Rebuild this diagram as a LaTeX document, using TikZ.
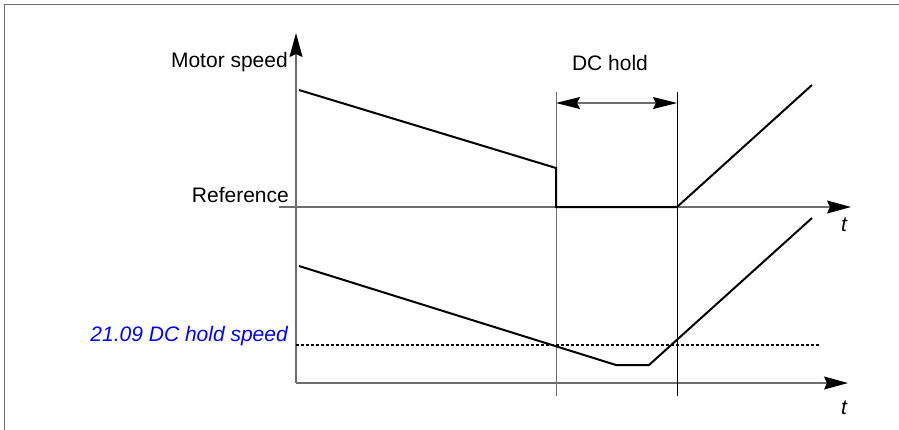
\documentclass[tikz,border=0pt]{standalone}
\usepackage{fontspec}
\setmainfont{Liberation Sans}
\usepackage{tikz}
\usetikzlibrary{arrows.meta, positioning, calc}
\definecolor{axisgray}{RGB}{110, 110, 110}
\definecolor{parblue}{RGB}{0, 0, 255}

\begin{document}
\begin{tikzpicture}[
  x=1pt, y=-1pt,
  font=\fontsize{21}{25}\selectfont,
  axisline/.style={draw=axisgray, line width=1.3pt},
  axisarrow/.style={axisline, -{Stealth[length=24pt, width=13pt, inset=3pt, color=black]}},
  speedline/.style={draw=black, line width=2pt, line join=miter},
  markline/.style={line width=1pt},
  lbl/.style={inner sep=0pt, anchor=east}
]
  \useasboundingbox (0,0) rectangle (899,429);
  \clip (0,0) rectangle (899,429);
  \draw[axisgray, line width=1.5pt] (4.5,4.5) rectangle (920,450);

  % axes
  \coordinate (o) at (296,383);
  \coordinate (ytip) at (296,33);
  \coordinate (refstart) at (279,207);
  \coordinate (reftip) at (851,207);
  \coordinate (ttip) at (848,383);
  \draw[axisarrow] (o) -- (ytip);
  \draw[axisarrow] (refstart) -- (reftip);
  \draw[axisarrow] (o) -- (ttip);

  % DC hold window
  \coordinate (s1) at (556,92);
  \coordinate (e1) at (556,396);
  \coordinate (s2) at (677,92);
  \coordinate (e2) at (677,396);
  \draw[markline, axisgray] (s1) -- (e1);
  \draw[markline, black] (s2) -- (e2);
  \coordinate (hl) at (556,103);
  \coordinate (hr) at (677,103);
  \draw[axisline, {Stealth[length=24pt, width=12pt, inset=3pt, color=black]}-{Stealth[length=24pt, width=12pt, inset=3pt, color=black]}] (hl) -- (hr);
  \node (hold) at (610,63) {DC hold};

  % motor speed and reference
  \draw[speedline] (299,90) -- (556,168) -- (556,207) -- (677,207) -- (812,85);
  \draw[speedline] (299,266) -- (616,365) -- (649,365) -- (812,218);

  % hold speed level
  \coordinate (dl) at (296,345);
  \coordinate (dr) at (819,345);
  \draw[black, line width=1.4pt, dash pattern=on 3pt off 2pt] (dl) -- (dr);

  % labels
  \node[lbl] (speed) at (288,62) {Motor speed};
  \node[lbl] (ref) at (289,195) {Reference};
  \node[lbl, text=parblue] (holdspeed) at (288,336) {\itshape 21.09 DC hold speed};
  \node (t1) at (844,225) {\itshape t};
  \node (t2) at (844,408) {\itshape t};
\end{tikzpicture}
\end{document}
